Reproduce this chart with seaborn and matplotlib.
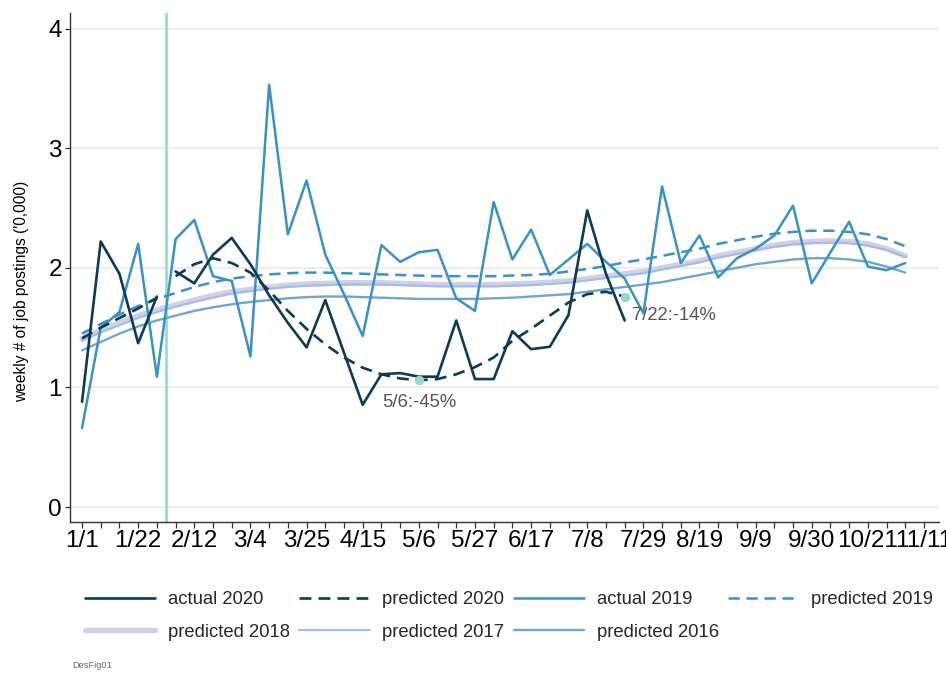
import matplotlib
matplotlib.use("Agg")
import matplotlib.pyplot as plt
import pandas as pd
import seaborn as sns

# Weekly job postings ('0,000), week 0 = 1/1
tick_labels = ["1/1", "1/22", "2/12", "3/4", "3/25", "4/15", "5/6", "5/27",
               "6/17", "7/8", "7/29", "8/19", "9/9", "9/30", "10/21", "11/11"]
y_ticks = [0, 1, 2, 3, 4]

actual_2020 = [0.88, 2.22, 1.95, 1.37, 1.76, 1.97, 1.87, 2.11, 2.25, 2.03,
               1.77, 1.54, 1.335, 1.73, 1.29, 0.855, 1.11, 1.12, 1.09, 1.09,
               1.56, 1.07, 1.07, 1.47, 1.32, 1.34, 1.605, 2.48, 1.95, 1.56]
predicted_2020 = [1.41, 1.50, 1.58, 1.66, 1.75, 1.93, 2.03, 2.08, 2.04, 1.96,
                  1.81, 1.64, 1.49, 1.36, 1.25, 1.165, 1.11, 1.075, 1.06, 1.07,
                  1.11, 1.17, 1.25, 1.39, 1.49, 1.60, 1.71, 1.78, 1.80, 1.76]
actual_2019 = [0.66, 1.50, 1.63, 2.20, 1.09, 2.24, 2.40, 1.93, 1.89, 1.26,
               3.53, 2.28, 2.73, 2.11, 1.78, 1.43, 2.19, 2.05, 2.13, 2.15,
               1.745, 1.64, 2.55, 2.07, 2.32, 1.94, 2.07, 2.20, 2.05, 1.91,
               1.62, 2.68, 2.04, 2.27, 1.92, 2.08, 2.16, 2.27, 2.52, 1.87,
               2.13, 2.385, 2.01, 1.98, 2.04]
predicted_2019 = [1.45, 1.53, 1.61, 1.68, 1.74, 1.79, 1.84, 1.88, 1.91, 1.93,
                  1.945, 1.955, 1.96, 1.96, 1.955, 1.95, 1.945, 1.94, 1.935, 1.93,
                  1.93, 1.93, 1.93, 1.935, 1.94, 1.95, 1.97, 1.99, 2.015, 2.045,
                  2.07, 2.10, 2.13, 2.16, 2.20, 2.23, 2.26, 2.285, 2.30, 2.31,
                  2.31, 2.30, 2.28, 2.24, 2.18]
predicted_2018 = [1.41, 1.48, 1.54, 1.60, 1.65, 1.69, 1.73, 1.77, 1.80, 1.82,
                  1.84, 1.855, 1.865, 1.87, 1.875, 1.875, 1.875, 1.87, 1.865, 1.86,
                  1.86, 1.86, 1.86, 1.865, 1.87, 1.88, 1.89, 1.91, 1.93, 1.95,
                  1.97, 2.00, 2.03, 2.06, 2.10, 2.13, 2.16, 2.19, 2.21, 2.22,
                  2.225, 2.22, 2.20, 2.16, 2.10]
predicted_2017 = [1.39, 1.46, 1.52, 1.58, 1.63, 1.675, 1.715, 1.75, 1.785, 1.805,
                  1.825, 1.84, 1.85, 1.855, 1.86, 1.86, 1.86, 1.855, 1.85, 1.845,
                  1.845, 1.845, 1.845, 1.85, 1.855, 1.865, 1.875, 1.895, 1.915, 1.935,
                  1.955, 1.985, 2.015, 2.045, 2.085, 2.115, 2.145, 2.175, 2.195, 2.205,
                  2.21, 2.205, 2.185, 2.15, 2.09]
predicted_2016 = [1.31, 1.38, 1.45, 1.51, 1.56, 1.60, 1.64, 1.67, 1.695, 1.715,
                  1.73, 1.745, 1.755, 1.76, 1.76, 1.755, 1.75, 1.745, 1.74, 1.74,
                  1.74, 1.74, 1.745, 1.75, 1.76, 1.77, 1.78, 1.80, 1.82, 1.84,
                  1.86, 1.88, 1.91, 1.94, 1.97, 2.00, 2.03, 2.05, 2.07, 2.08,
                  2.08, 2.07, 2.05, 2.01, 1.96]

# reference week marker and the 2020 series break
event_week = 4.5
break_after_week = 4

# highlighted weeks: predicted 2020 vs predicted 2019
mark_weeks = [18, 29]
mark_dates = ["5/6", "7/22"]

DARK = "#0d3a55"
MID = "#3892c3"
LAV = "#d0d0e8"
STEEL = "#a7bddf"
P16 = "#6fa5d1"
MINT = "#94dcc6"

sns.set_theme(style="white")
plt.rcParams["font.family"] = ["Liberation Sans", "DejaVu Sans"]

fig = plt.figure(figsize=(9.46, 6.84), dpi=100)
ax = fig.add_axes([0.0735, 0.2368, 0.9191, 0.7435])


def draw(values, color, lw, dashed=False, split=None, z=2):
    df = pd.DataFrame({"week": range(len(values)), "value": values})
    df["segment"] = (df["week"] > split).astype(int) if split is not None else 0
    ls = (0, (4.5, 2.7)) if dashed else "-"
    sns.lineplot(data=df, x="week", y="value", units="segment", estimator=None,
                 color=color, linewidth=lw, linestyle=ls, ax=ax, zorder=z,
                 legend=False)
    return ax.lines[-1]


ax.axvline(event_week, color=MINT, lw=1.9, zorder=1.5)

handles = {}
handles["predicted 2018"] = draw(predicted_2018, LAV, 3.9, z=2.0)
handles["predicted 2017"] = draw(predicted_2017, STEEL, 1.6, z=2.1)
handles["predicted 2016"] = draw(predicted_2016, P16, 1.7, z=2.2)
handles["predicted 2019"] = draw(predicted_2019, MID, 1.8, dashed=True, z=2.3)
handles["actual 2019"] = draw(actual_2019, MID, 1.8, z=2.4)
handles["predicted 2020"] = draw(predicted_2020, DARK, 1.9, dashed=True,
                                 split=break_after_week, z=2.5)
handles["actual 2020"] = draw(actual_2020, DARK, 1.9,
                              split=break_after_week, z=2.6)

# markers and percentage labels
mark_vals = [predicted_2020[w] for w in mark_weeks]
sns.scatterplot(x=mark_weeks, y=mark_vals, color=MINT, s=46, linewidth=0,
                ax=ax, zorder=3, legend=False)
offsets = [((0, -22), "center"), ((7, -19), "left")]
for w, d, (off, ha) in zip(mark_weeks, mark_dates, offsets):
    pct = round((predicted_2020[w] / predicted_2019[w] - 1) * 100)
    ax.annotate(f"{d}:{pct}%", xy=(w, predicted_2020[w]), xytext=off,
                textcoords="offset pixels", ha=ha, va="center",
                fontsize=13.3, color="#5a544e", zorder=4)

# axes
ax.set_xlim(-0.668, 45.8)
ax.set_ylim(-0.125, 4.126)
ax.set_yticks(y_ticks)
ax.set_yticklabels([str(t) for t in y_ticks])
ax.set_xticks(range(46))
ax.set_xticklabels([tick_labels[i // 3] if i % 3 == 0 else "" for i in range(46)])
ax.yaxis.grid(True, color="#e8e8e8", lw=1.1)
ax.xaxis.grid(False)
ax.set_axisbelow(True)
ax.set_xlabel("")
ax.set_ylabel("")
for s in ["top", "right"]:
    ax.spines[s].set_visible(False)
for s in ["left", "bottom"]:
    ax.spines[s].set_color("#333333")
    ax.spines[s].set_linewidth(1.0)
ax.tick_params(axis="x", bottom=True, direction="out", length=4.6, width=0.9,
               pad=1, labelsize=17.5, color="#333333", labelcolor="black")
ax.tick_params(axis="y", left=True, direction="out", length=3.6, width=0.9,
               pad=2, labelsize=17.5, color="#333333", labelcolor="black")

fig.text(22 / 946, 1 - 291 / 684, "weekly # of job postings ('0,000)",
         rotation=90, ha="center", va="center", fontsize=11.2, color="black")

order = ["actual 2020", "predicted 2018", "predicted 2020", "predicted 2017",
         "actual 2019", "predicted 2016", "predicted 2019"]
fig.legend([handles[k] for k in order], order, ncol=4, loc="upper left",
           bbox_to_anchor=(85 / 946, 1 - 591 / 684), frameon=False,
           fontsize=13.3, handlelength=3.8, handletextpad=0.7,
           columnspacing=0.5, labelspacing=0.85, borderpad=0, borderaxespad=0)

fig.text(72 / 946, 1 - 665 / 684, "DesFig01", fontsize=6.7, color="#666666",
         va="center", ha="left")

fig.savefig("out.png", dpi=100, facecolor="white")
